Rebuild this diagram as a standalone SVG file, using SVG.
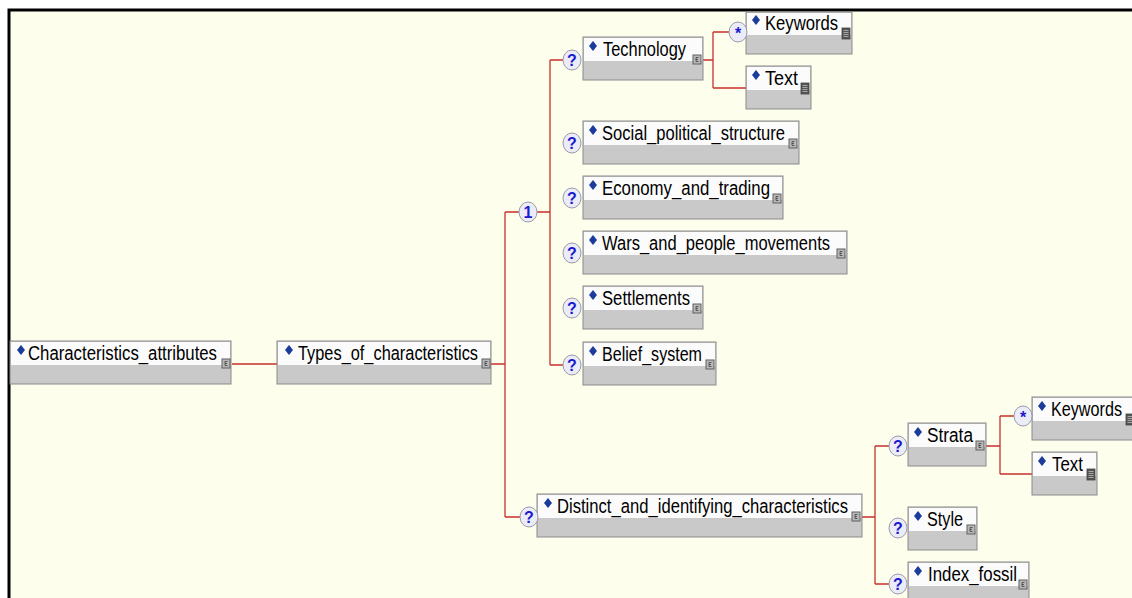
<svg xmlns="http://www.w3.org/2000/svg" width="1132" height="598" viewBox="0 0 1132 598">
<defs>
<style>
.box{fill:#c9c9c9;stroke:#8a8a8a;stroke-width:1}
.hdr{fill:#fbfbfb}
.dia{fill:#1c3c9c}
.lbl{font-family:"Liberation Sans",Arial,sans-serif;font-size:20px;fill:#000}
.con{fill:none;stroke:#c8302c;stroke-width:1.3}
.q{fill:#ececf8;stroke:#9a9aa8;stroke-width:1}
.qt{font-family:"Liberation Sans",Arial,sans-serif;font-size:16px;font-weight:bold;fill:#1a1ad0;text-anchor:middle}
</style>
<g id="ico-e">
<rect x="0" y="0" width="8" height="9" fill="#b8b8b8" stroke="#606060" stroke-width="1"/>
<path d="M5.5,2.5 H3 V6.5 H5.5 M3,4.5 H5" fill="none" stroke="#404040" stroke-width="0.8"/>
</g>
<g id="ico-s">
<rect x="0" y="0" width="8" height="11" fill="#555" stroke="#444" stroke-width="0.8"/>
<path d="M1.5,2.5 H6.5 M1.5,4.5 H6.5 M1.5,6.5 H6.5 M1.5,8.5 H6.5" stroke="#bbb" stroke-width="0.8"/>
</g>
<path id="dia" d="M0,-5 L4,0 L0,5 L-4,0 Z"/>
</defs>
<rect x="0" y="0" width="1132" height="598" fill="#ffffff"/>
<rect x="9" y="10" width="1123" height="588" fill="#fdfeec"/>
<path d="M9,598 V10 H1132" fill="none" stroke="#000" stroke-width="3"/>

<g id="connectors">
<path class="con" d="M232,364 H277 M491,364 H505 M505,212 V517 M505,212 H519 M505,517 H520 M537,212 H550 M550,60 V365 M550,60 H563 M550,365 H563 M703,60 H713 M713,32 V88 M713,32 H729 M713,88 H746 M862,517 H875 M875,446 V584 M875,446 H889 M875,584 H889 M986,446 H1000 M1000,416 V474 M1000,416 H1014 M1000,474 H1032"/>
</g>

<g id="n-characteristics_attributes" transform="translate(10,341)">
<rect class="box" width="221" height="43"/><rect class="hdr" x="1" y="1" width="219" height="23"/>
<use href="#dia" x="11" y="9" class="dia"/>
<text class="lbl" x="18" y="19" textLength="189" lengthAdjust="spacingAndGlyphs">Characteristics_attributes</text>
<use href="#ico-e" x="212" y="18"/>
</g>

<g id="n-types_of_characteristics" transform="translate(277,341)">
<rect class="box" width="214" height="43"/><rect class="hdr" x="1" y="1" width="212" height="23"/>
<use href="#dia" x="12" y="9" class="dia"/>
<text class="lbl" x="21" y="19" textLength="180" lengthAdjust="spacingAndGlyphs">Types_of_characteristics</text>
<use href="#ico-e" x="205" y="18"/>
</g>

<g id="choice">
<ellipse class="q" cx="528" cy="212" rx="9" ry="10"/>
<text class="qt" x="528" y="218" font-weight="normal">1</text>
</g>

<g id="n-technology" transform="translate(583,37)">
<rect class="box" width="120" height="43"/><rect class="hdr" x="1" y="1" width="118" height="23"/>
<use href="#dia" x="10" y="9" class="dia"/>
<text class="lbl" x="20" y="19" textLength="83" lengthAdjust="spacingAndGlyphs">Technology</text>
<use href="#ico-e" x="110" y="18"/>
<ellipse class="q" cx="-11" cy="23" rx="9" ry="10"/><text class="qt" x="-11" y="29">?</text>
</g>

<g id="n-keywords1" transform="translate(746,12)">
<rect class="box" width="106" height="42"/><rect class="hdr" x="1" y="1" width="104" height="22"/>
<use href="#dia" x="10" y="8" class="dia"/>
<text class="lbl" x="19" y="18" textLength="73" lengthAdjust="spacingAndGlyphs">Keywords</text>
<use href="#ico-s" x="96" y="16"/>
<ellipse class="q" cx="-8" cy="20" rx="9" ry="10"/><text class="qt" x="-8" y="27" font-size="18">*</text>
</g>

<g id="n-text1" transform="translate(746,66)">
<rect class="box" width="65" height="43"/><rect class="hdr" x="1" y="1" width="63" height="23"/>
<use href="#dia" x="10" y="9" class="dia"/>
<text class="lbl" x="19" y="19" textLength="33" lengthAdjust="spacingAndGlyphs">Text</text>
<use href="#ico-s" x="55" y="17"/>
</g>

<g id="n-social_political_structure" transform="translate(583,121)">
<rect class="box" width="216" height="43"/><rect class="hdr" x="1" y="1" width="214" height="23"/>
<use href="#dia" x="10" y="9" class="dia"/>
<text class="lbl" x="19" y="19" textLength="183" lengthAdjust="spacingAndGlyphs">Social_political_structure</text>
<use href="#ico-e" x="206" y="18"/>
<ellipse class="q" cx="-11" cy="22" rx="9" ry="10"/><text class="qt" x="-11" y="28">?</text>
</g>

<g id="n-economy_and_trading" transform="translate(583,176)">
<rect class="box" width="200" height="43"/><rect class="hdr" x="1" y="1" width="198" height="23"/>
<use href="#dia" x="10" y="9" class="dia"/>
<text class="lbl" x="19" y="19" textLength="168" lengthAdjust="spacingAndGlyphs">Economy_and_trading</text>
<use href="#ico-e" x="190" y="18"/>
<ellipse class="q" cx="-11" cy="22" rx="9" ry="10"/><text class="qt" x="-11" y="28">?</text>
</g>

<g id="n-wars_and_people_movements" transform="translate(583,231)">
<rect class="box" width="264" height="43"/><rect class="hdr" x="1" y="1" width="262" height="23"/>
<use href="#dia" x="10" y="9" class="dia"/>
<text class="lbl" x="19" y="19" textLength="228" lengthAdjust="spacingAndGlyphs">Wars_and_people_movements</text>
<use href="#ico-e" x="254" y="18"/>
<ellipse class="q" cx="-11" cy="22" rx="9" ry="10"/><text class="qt" x="-11" y="28">?</text>
</g>

<g id="n-settlements" transform="translate(583,286)">
<rect class="box" width="120" height="43"/><rect class="hdr" x="1" y="1" width="118" height="23"/>
<use href="#dia" x="10" y="9" class="dia"/>
<text class="lbl" x="19" y="19" textLength="88" lengthAdjust="spacingAndGlyphs">Settlements</text>
<use href="#ico-e" x="110" y="18"/>
<ellipse class="q" cx="-11" cy="22" rx="9" ry="10"/><text class="qt" x="-11" y="28">?</text>
</g>

<g id="n-belief_system" transform="translate(583,342)">
<rect class="box" width="133" height="43"/><rect class="hdr" x="1" y="1" width="131" height="23"/>
<use href="#dia" x="10" y="9" class="dia"/>
<text class="lbl" x="19" y="19" textLength="100" lengthAdjust="spacingAndGlyphs">Belief_system</text>
<use href="#ico-e" x="123" y="18"/>
<ellipse class="q" cx="-11" cy="23" rx="9" ry="10"/><text class="qt" x="-11" y="29">?</text>
</g>

<g id="n-distinct_and_identifying_characteristics" transform="translate(537,494)">
<rect class="box" width="325" height="43"/><rect class="hdr" x="1" y="1" width="323" height="23"/>
<use href="#dia" x="11" y="9" class="dia"/>
<text class="lbl" x="20" y="19" textLength="291" lengthAdjust="spacingAndGlyphs">Distinct_and_identifying_characteristics</text>
<use href="#ico-e" x="315" y="18"/>
<ellipse class="q" cx="-8" cy="23" rx="9" ry="10"/><text class="qt" x="-8" y="29">?</text>
</g>

<g id="n-strata" transform="translate(908,423)">
<rect class="box" width="78" height="43"/><rect class="hdr" x="1" y="1" width="76" height="23"/>
<use href="#dia" x="10" y="9" class="dia"/>
<text class="lbl" x="19" y="19" textLength="46" lengthAdjust="spacingAndGlyphs">Strata</text>
<use href="#ico-e" x="68" y="18"/>
<ellipse class="q" cx="-10" cy="23" rx="9" ry="10"/><text class="qt" x="-10" y="29">?</text>
</g>

<g id="n-keywords2" transform="translate(1032,397)">
<rect class="box" width="106" height="43"/><rect class="hdr" x="1" y="1" width="104" height="23"/>
<use href="#dia" x="10" y="9" class="dia"/>
<text class="lbl" x="19" y="19" textLength="71" lengthAdjust="spacingAndGlyphs">Keywords</text>
<use href="#ico-s" x="94" y="17"/>
<ellipse class="q" cx="-9" cy="19" rx="9" ry="10"/><text class="qt" x="-9" y="26" font-size="18">*</text>
</g>

<g id="n-text2" transform="translate(1032,452)">
<rect class="box" width="65" height="43"/><rect class="hdr" x="1" y="1" width="63" height="23"/>
<use href="#dia" x="10" y="9" class="dia"/>
<text class="lbl" x="20" y="19" textLength="31" lengthAdjust="spacingAndGlyphs">Text</text>
<use href="#ico-s" x="55" y="17"/>
</g>

<g id="n-style" transform="translate(908,507)">
<rect class="box" width="69" height="43"/><rect class="hdr" x="1" y="1" width="67" height="23"/>
<use href="#dia" x="10" y="9" class="dia"/>
<text class="lbl" x="19" y="19" textLength="36" lengthAdjust="spacingAndGlyphs">Style</text>
<use href="#ico-e" x="59" y="18"/>
<ellipse class="q" cx="-10" cy="21" rx="9" ry="10"/><text class="qt" x="-10" y="27">?</text>
</g>

<g id="n-index_fossil" transform="translate(908,562)">
<rect class="box" width="121" height="43"/><rect class="hdr" x="1" y="1" width="119" height="23"/>
<use href="#dia" x="10" y="9" class="dia"/>
<text class="lbl" x="20" y="19" textLength="89" lengthAdjust="spacingAndGlyphs">Index_fossil</text>
<use href="#ico-e" x="111" y="18"/>
<ellipse class="q" cx="-10" cy="22" rx="9" ry="10"/><text class="qt" x="-10" y="28">?</text>
</g>
</svg>
